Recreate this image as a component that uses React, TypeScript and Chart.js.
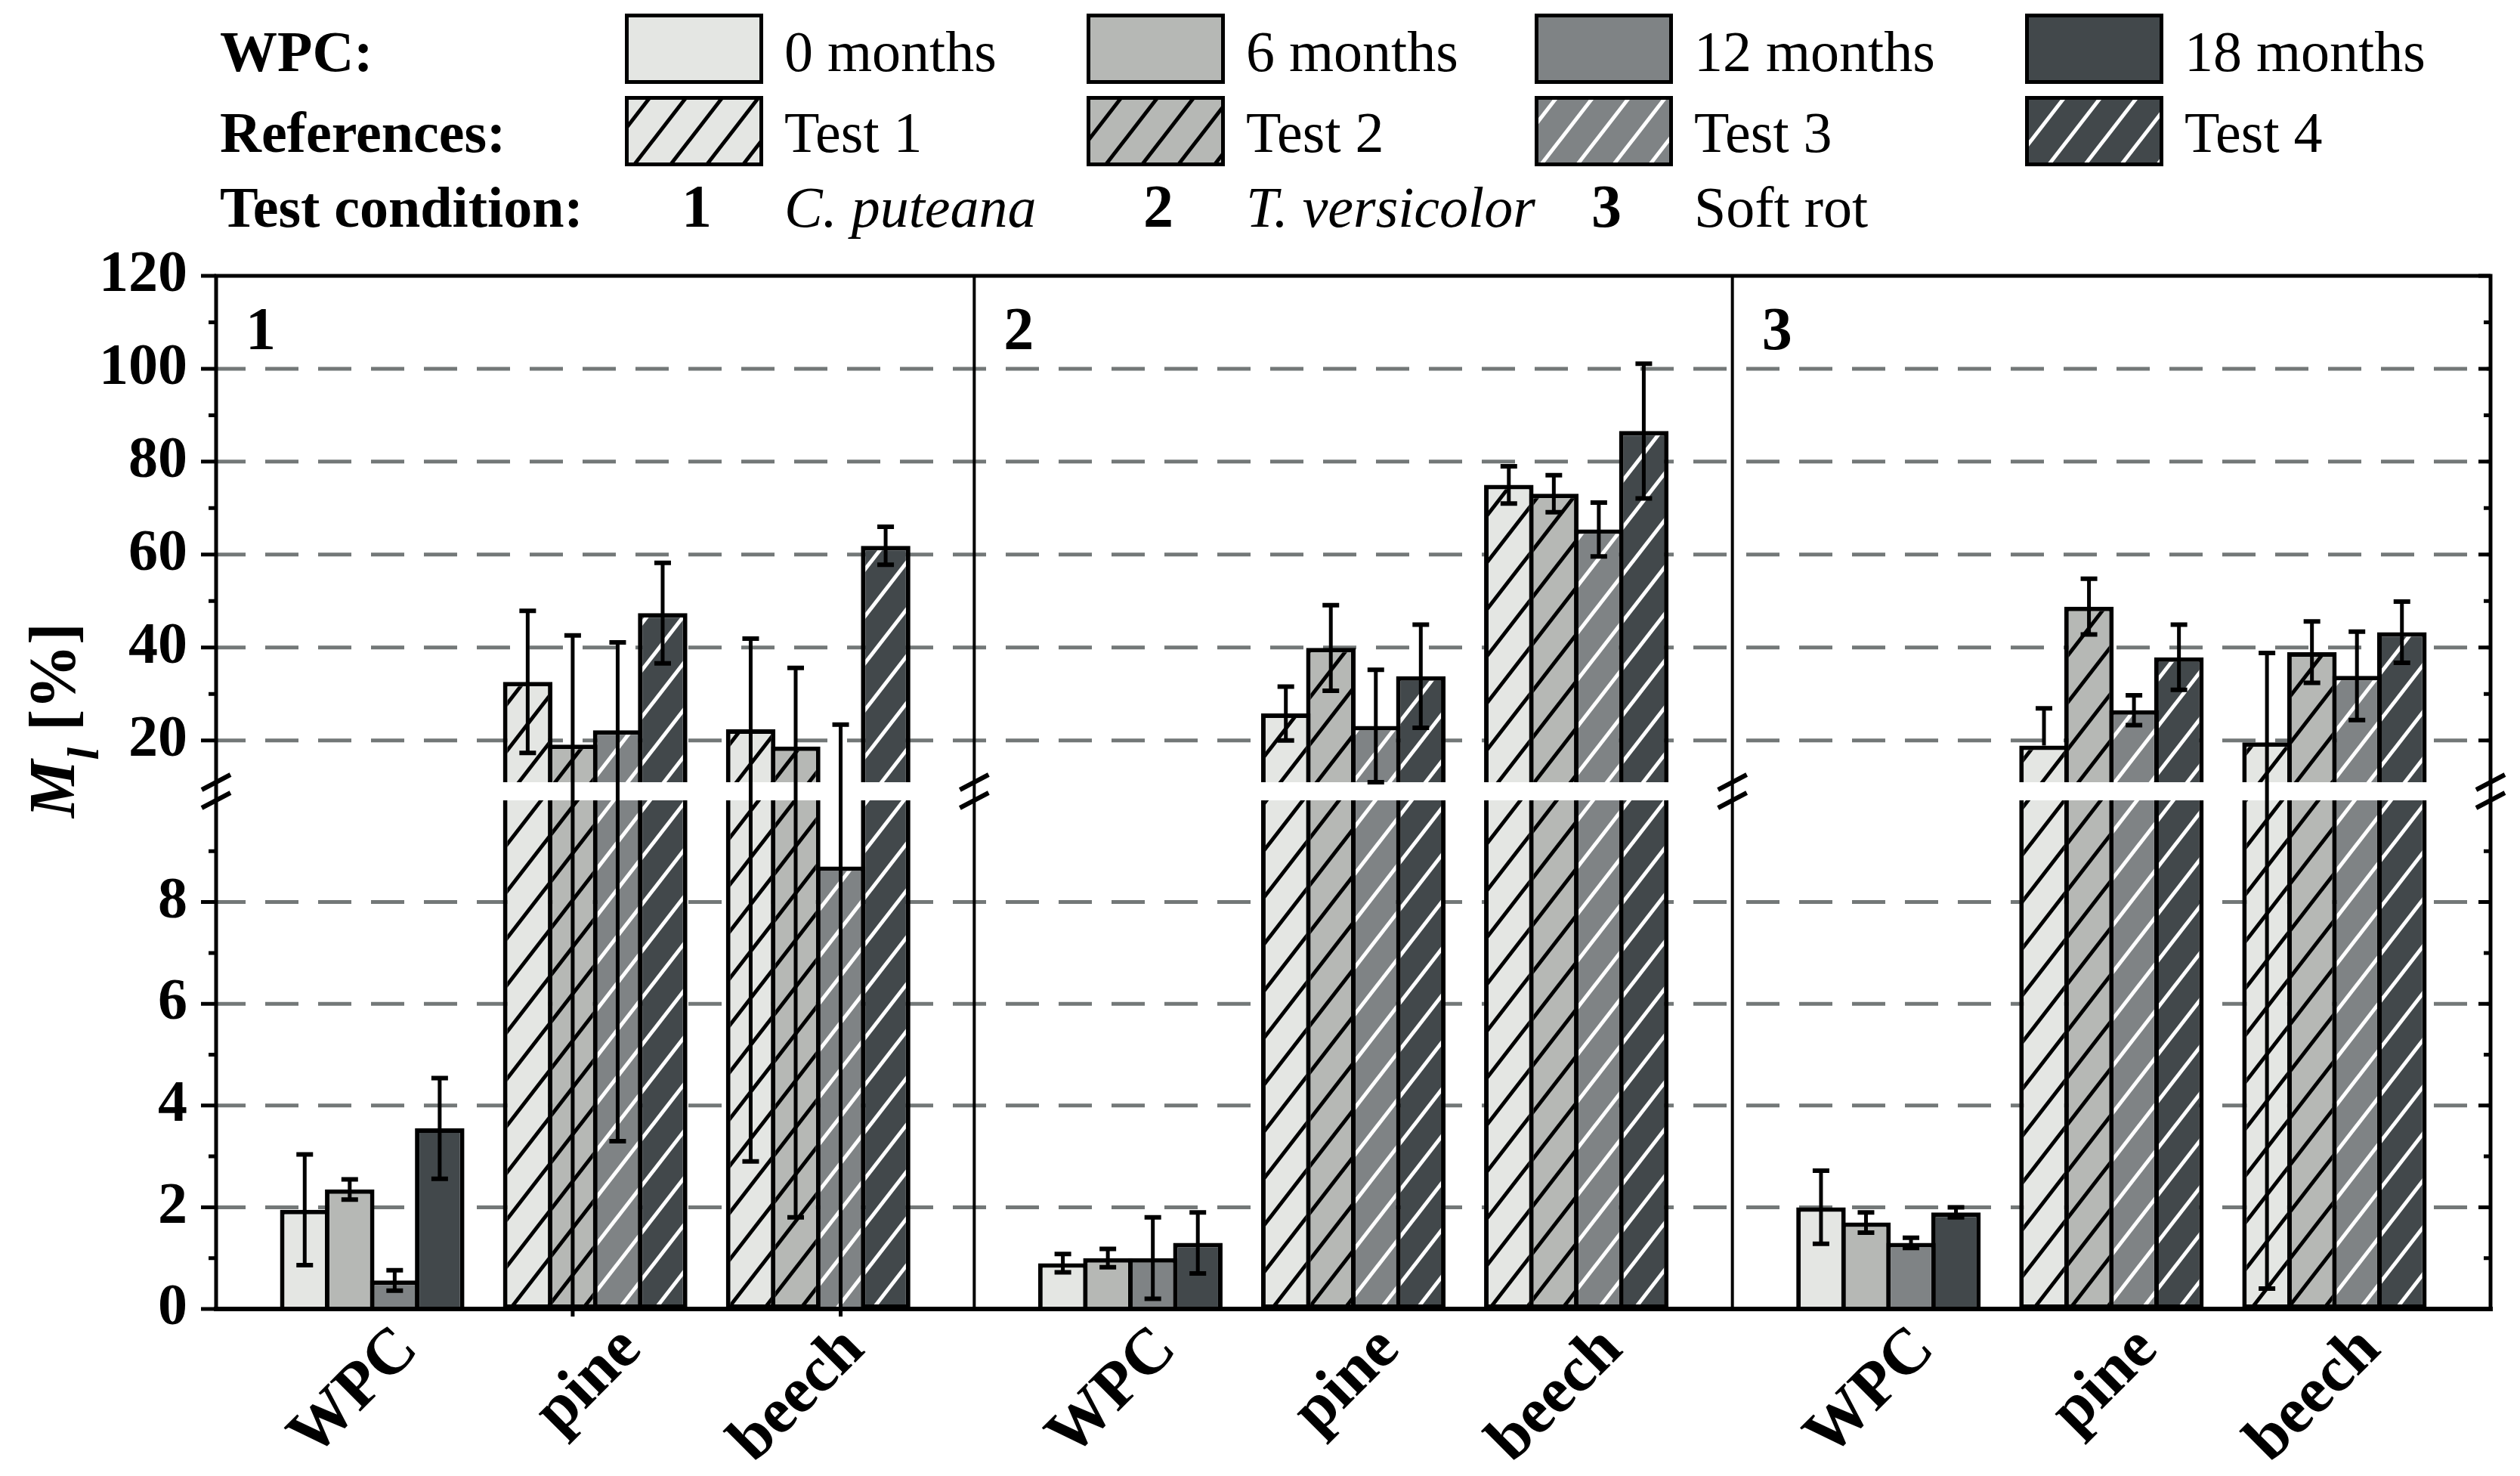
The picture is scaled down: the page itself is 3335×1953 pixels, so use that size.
import React, { useEffect, useRef } from 'react';
import { Chart, registerables } from 'chart.js';

Chart.register(...registerables);

const CANVAS_W = 3335;
const CANVAS_H = 1953;
const FONT = '"Liberation Serif", "Times New Roman", serif';

// ---------- data ----------
const groups = ['WPC', 'pine', 'beech'];
const panelLabels = ['1', '2', '3'];
const wpcLegend = ['0 months', '6 months', '12 months', '18 months'];
const refLegend = ['Test 1', 'Test 2', 'Test 3', 'Test 4'];
const legendRowTitles = ['WPC:', 'References:', 'Test condition:'];
const conditionNames = ['C. puteana', 'T. versicolor', 'Soft rot'];
const conditionItalic = [true, true, false];
const axisTitleParts = ['M', 'l', ' [%]'];

// mean mass loss M_l [%]; rows: WPC, pine, beech; columns: series 1-4
const meanPuteana = [
  [1.95, 2.35, 0.56, 3.55],
  [32.6, 19.1, 22.2, 47.4],
  [22.4, 18.7, 8.7, 61.9],
];
const sdPuteana = [
  [1.09, 0.2, 0.2, 0.99],
  [15.3, 23.5, 18.9, 10.8],
  [19.5, 16.9, 14.7, 4.1],
];
const meanVersicolor = [
  [0.9, 1.0, 1.0, 1.3],
  [25.8, 39.9, 23.1, 33.8],
  [75.0, 73.1, 65.4, 86.6],
];
const sdVersicolor = [
  [0.18, 0.18, 0.8, 0.6],
  [5.8, 9.2, 12.1, 11.1],
  [4.0, 4.0, 5.8, 14.5],
];
const meanSoftRot = [
  [2.0, 1.7, 1.3, 1.9],
  [18.9, 48.8, 26.5, 37.9],
  [19.6, 39.0, 33.9, 43.3],
];
const sdSoftRot = [
  [0.72, 0.2, 0.1, 0.1],
  [8.0, 6.0, 3.2, 7.0],
  [19.2, 6.6, 9.5, 6.6],
];

const lowerTicks = [0, 2, 4, 6, 8];
const upperTicks = [20, 40, 60, 80, 100, 120];
const lowerRange = [0, 10];
const upperRange = [11, 120];

// ---------- layout / styles ----------
const groupMargin = 0.7; // empty space (in category units) at each side of a panel
const panelSpan = groups.length - 1 + 2 * groupMargin;
const fills = ['#e4e6e3', '#b6b8b5', '#7f8385', '#42484b'];
const hatchInk = ['#000000', '#000000', '#ffffff', '#ffffff'];
const gridColor = '#737878';

export default function App() {
  const ref = useRef<HTMLCanvasElement | null>(null);

  useEffect(() => {
    document.body.style.margin = '0';
    document.body.style.overflow = 'hidden';
    const canvas = ref.current as HTMLCanvasElement;
    const mainCtx = canvas.getContext('2d') as CanvasRenderingContext2D;

    const makeHatch = (bg: string, ink: string) => {
      const a = 48;
      const b = 62;
      const c = document.createElement('canvas');
      c.width = a;
      c.height = b;
      const g = c.getContext('2d') as CanvasRenderingContext2D;
      g.fillStyle = bg;
      g.fillRect(0, 0, a, b);
      g.strokeStyle = ink;
      g.lineWidth = 5;
      for (let k = 0; k <= 2; k++) {
        g.beginPath();
        g.moveTo(a * (k + 1), -b);
        g.lineTo(a * (k - 2), 2 * b);
        g.stroke();
      }
      return mainCtx.createPattern(c, 'repeat') as CanvasPattern;
    };
    const patterns = fills.map((f, i) => makeHatch(f, hatchInk[i]));

    const panels = [
      { mean: meanPuteana, sd: sdPuteana },
      { mean: meanVersicolor, sd: sdVersicolor },
      { mean: meanSoftRot, sd: sdSoftRot },
    ];
    const groupPos = (p: number, g: number) => p * panelSpan + g;

    const common = {
      borderColor: '#000000',
      borderWidth: 6,
      categoryPercentage: 0.807,
      barPercentage: 1.1,
    };

    const points = panels.flatMap((pn, p) => groups.map((_, g) => ({ p, g, pn })));

    const datasets: any[] = [];
    const lowerIdx: number[] = [];
    for (let s = 0; s < 4; s++) {
      lowerIdx.push(datasets.length);
      datasets.push({
        ...common,
        xAxisID: 'x',
        yAxisID: 'yLow',
        stack: 's' + s,
        data: points.map(({ p, g, pn }) => ({ x: groupPos(p, g), y: Math.min(pn.mean[g][s], lowerRange[1]) })),
        backgroundColor: points.map(({ g }) => (g === 0 ? fills[s] : patterns[s])),
        borderSkipped: points.map(({ g, pn }) => (pn.mean[g][s] > lowerRange[1] ? 'top' : 'bottom')),
      });
    }
    for (let s = 0; s < 4; s++) {
      datasets.push({
        ...common,
        xAxisID: 'x',
        yAxisID: 'yHigh',
        stack: 's' + s,
        data: points.map(({ p, g, pn }) => ({
          x: groupPos(p, g),
          y: pn.mean[g][s] > upperRange[0] ? [upperRange[0], pn.mean[g][s]] : null,
        })),
        backgroundColor: points.map(({ g }) => (g === 0 ? fills[s] : patterns[s])),
        borderSkipped: 'bottom',
      });
    }

    const tickFont = { family: FONT, size: 78, weight: 'bold' as const };

    const yScale = (range: number[], ticksArr: number[], weight: number) => ({
      type: 'linear',
      position: 'left',
      stack: 'v',
      stackWeight: weight,
      stacked: false,
      min: range[0],
      max: range[1],
      grid: { display: false, drawTicks: false },
      border: { display: false },
      afterBuildTicks: (s: any) => {
        s.ticks = ticksArr.map((v) => ({ value: v }));
      },
      afterFit: (s: any) => {
        s.width = 286;
      },
      ticks: { padding: 38, color: '#000', font: tickFont, autoSkip: false },
    });

    const valueToPixel = (v: number, yLow: any, yHigh: any) => {
      if (v <= lowerRange[1]) return yLow.getPixelForValue(v);
      if (v >= upperRange[0]) return yHigh.getPixelForValue(v);
      return null;
    };

    const decor = {
      id: 'decor',
      beforeDatasetsDraw(chart: any) {
        const ctx = chart.ctx as CanvasRenderingContext2D;
        const { left, right } = chart.chartArea;
        const { yLow, yHigh } = chart.scales;
        ctx.save();
        ctx.strokeStyle = gridColor;
        ctx.lineWidth = 5;
        ctx.setLineDash([44, 26]);
        ctx.lineDashOffset = 5;
        const lines: number[] = [];
        lowerTicks.filter((v) => v > lowerRange[0]).forEach((v) => lines.push(yLow.getPixelForValue(v)));
        upperTicks.filter((v) => v < upperRange[1]).forEach((v) => lines.push(yHigh.getPixelForValue(v)));
        lines.forEach((y) => {
          ctx.beginPath();
          ctx.moveTo(left, y);
          ctx.lineTo(right, y);
          ctx.stroke();
        });
        ctx.restore();
      },
      afterDatasetsDraw(chart: any) {
        const ctx = chart.ctx as CanvasRenderingContext2D;
        const { left, right, top, bottom } = chart.chartArea;
        const { x: xs, yLow, yHigh } = chart.scales;
        const seps = [1, 2].map((p) => xs.getPixelForValue(p * panelSpan - groupMargin));
        const panelLefts = [0, 1, 2].map((p) => xs.getPixelForValue(p * panelSpan - groupMargin));

        // error bars
        ctx.save();
        ctx.strokeStyle = '#000';
        for (let s = 0; s < 4; s++) {
          const meta = chart.getDatasetMeta(lowerIdx[s]);
          points.forEach(({ g, pn }, i) => {
            const el = meta.data[i];
            if (!el) return;
            const x = el.x;
            const m = pn.mean[g][s];
            const sd = pn.sd[g][s];
            const yHi = valueToPixel(m + sd, yLow, yHigh);
            const yM = valueToPixel(m, yLow, yHigh);
            let yLo = valueToPixel(m - sd, yLow, yHigh);
            let loCap = true;
            if (yLo === null) {
              yLo = yM;
              loCap = false;
            } else if (yLo > bottom + 10) {
              yLo = bottom + 10;
              loCap = false;
            }
            ctx.lineWidth = 5;
            ctx.beginPath();
            ctx.moveTo(x, yHi);
            ctx.lineTo(x, yLo);
            ctx.stroke();
            ctx.lineWidth = 6;
            ctx.beginPath();
            ctx.moveTo(x - 11, yHi);
            ctx.lineTo(x + 11, yHi);
            if (loCap) {
              ctx.moveTo(x - 11, yLo);
              ctx.lineTo(x + 11, yLo);
            }
            ctx.stroke();
          });
        }
        ctx.restore();

        // frame
        ctx.save();
        ctx.strokeStyle = '#000';
        ctx.lineCap = 'square';
        ctx.lineWidth = 5;
        ctx.beginPath();
        ctx.moveTo(left, top);
        ctx.lineTo(right, top);
        ctx.moveTo(left, top);
        ctx.lineTo(left, bottom);
        ctx.moveTo(right, top);
        ctx.lineTo(right, bottom);
        ctx.stroke();
        ctx.lineWidth = 6;
        ctx.beginPath();
        ctx.moveTo(left, bottom);
        ctx.lineTo(right, bottom);
        ctx.stroke();
        ctx.lineWidth = 4;
        ctx.lineCap = 'butt';
        ctx.beginPath();
        seps.forEach((x) => {
          ctx.moveTo(x, top);
          ctx.lineTo(x, bottom);
        });
        ctx.stroke();

        // ticks
        const majors: number[] = [];
        const minors: number[] = [];
        lowerTicks.forEach((v) => {
          majors.push(yLow.getPixelForValue(v));
          if (v + 1 < lowerRange[1]) minors.push(yLow.getPixelForValue(v + 1));
        });
        upperTicks.forEach((v) => {
          majors.push(yHigh.getPixelForValue(v));
          if (v - 10 > upperRange[0]) minors.push(yHigh.getPixelForValue(v - 10));
        });
        ctx.lineWidth = 5;
        ctx.beginPath();
        majors.forEach((y) => {
          ctx.moveTo(left - 20, y);
          ctx.lineTo(left, y);
          ctx.moveTo(right - 16, y);
          ctx.lineTo(right, y);
        });
        minors.forEach((y) => {
          ctx.moveTo(left - 10, y);
          ctx.lineTo(left, y);
          ctx.moveTo(right - 9, y);
          ctx.lineTo(right, y);
        });
        ctx.stroke();

        // break marks
        ctx.lineWidth = 6;
        ctx.beginPath();
        [left, ...seps, right].forEach((x) => {
          [yHigh.bottom, yLow.top].forEach((y) => {
            ctx.moveTo(x - 19, y + 10);
            ctx.lineTo(x + 19, y - 10);
          });
        });
        ctx.stroke();

        // panel numbers
        ctx.fillStyle = '#000';
        ctx.font = `bold 80px ${FONT}`;
        ctx.textAlign = 'left';
        ctx.textBaseline = 'alphabetic';
        panelLefts.forEach((x, i) => ctx.fillText(panelLabels[i], x + 39, top + 97));
        ctx.restore();
      },
      afterDraw(chart: any) {
        const ctx = chart.ctx as CanvasRenderingContext2D;
        ctx.save();
        ctx.fillStyle = '#000';
        ctx.textAlign = 'left';
        ctx.textBaseline = 'alphabetic';

        // legend
        const colX = [827, 1438, 2031, 2680];
        const rowBase = [94, 201, 300];
        const swTop = [18, 127];
        const swW = 183;
        const swH = 93;
        ctx.font = `bold 76px ${FONT}`;
        legendRowTitles.forEach((t, r) => ctx.fillText(t, 291, rowBase[r]));
        for (let s = 0; s < 4; s++) {
          [fills[s], patterns[s]].forEach((fs, r) => {
            ctx.fillStyle = fs as any;
            ctx.fillRect(colX[s], swTop[r], swW, swH);
            ctx.strokeStyle = '#000';
            ctx.lineWidth = 5;
            ctx.strokeRect(colX[s] + 2.5, swTop[r] + 2.5, swW - 5, swH - 5);
          });
          ctx.fillStyle = '#000';
          ctx.font = `76px ${FONT}`;
          ctx.fillText(wpcLegend[s], colX[s] + 211, rowBase[0]);
          ctx.fillText(refLegend[s], colX[s] + 211, rowBase[1]);
        }
        conditionNames.forEach((name, i) => {
          ctx.font = `bold 80px ${FONT}`;
          ctx.textAlign = 'center';
          ctx.fillText(panelLabels[i], colX[i] + 95, rowBase[2]);
          ctx.textAlign = 'left';
          ctx.font = `${conditionItalic[i] ? 'italic ' : ''}76px ${FONT}`;
          ctx.fillText(name, colX[i] + 211, rowBase[2]);
        });

        // y axis title
        ctx.translate(98, 953);
        ctx.rotate(-Math.PI / 2);
        const fonts = [`italic bold 86px ${FONT}`, `italic bold 60px ${FONT}`, `bold 86px ${FONT}`];
        const offs = [0, 32, 0];
        const widths = axisTitleParts.map((t, i) => {
          ctx.font = fonts[i];
          return ctx.measureText(t).width;
        });
        let x = -widths.reduce((a, b) => a + b, 0) / 2;
        axisTitleParts.forEach((t, i) => {
          ctx.font = fonts[i];
          ctx.fillText(t, x, offs[i]);
          x += widths[i];
        });
        ctx.restore();
      },
    };

    const chart = new Chart(canvas, {
      type: 'bar',
      data: { datasets },
      options: {
        responsive: false,
        animation: false,
        devicePixelRatio: 1,
        layout: { padding: { top: 365, right: 39, left: 0, bottom: 0 } },
        plugins: { legend: { display: false }, tooltip: { enabled: false }, title: { display: false } },
        scales: {
          x: {
            type: 'linear',
            position: 'bottom',
            min: -groupMargin,
            max: panels.length * panelSpan - groupMargin,
            offset: false,
            grid: { display: false, drawTicks: false },
            border: { display: false },
            afterBuildTicks: (s: any) => {
              s.ticks = points.map(({ p, g }) => ({ value: groupPos(p, g) }));
            },
            afterFit: (s: any) => {
              s.height = 221;
            },
            ticks: {
              autoSkip: false,
              minRotation: 45,
              maxRotation: 45,
              padding: 4,
              labelOffset: 48,
              color: '#000',
              font: { family: FONT, size: 86, weight: 'bold' as const },
              callback: (_v: any, i: number) => groups[points[i] ? points[i].g : 0],
            },
          },
          yLow: yScale(lowerRange, lowerTicks, 673),
          yGap: {
            type: 'linear',
            position: 'left',
            stack: 'v',
            stackWeight: 24,
            min: 0,
            max: 1,
            grid: { display: false, drawTicks: false },
            border: { display: false },
            ticks: { display: false },
            afterFit: (s: any) => {
              s.width = 286;
            },
          },
          yHigh: yScale(upperRange, upperTicks, 670),
        },
      } as any,
      plugins: [decor],
    } as any);

    return () => chart.destroy();
  }, []);

  return (
    <div style={{ width: CANVAS_W, height: CANVAS_H, background: '#fff' }}>
      <canvas ref={ref} width={CANVAS_W} height={CANVAS_H} style={{ display: 'block' }} />
    </div>
  );
}
